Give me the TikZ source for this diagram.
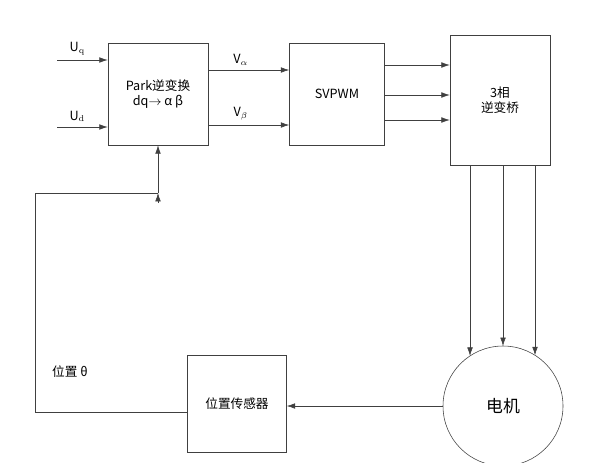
\documentclass[tikz,border=0pt]{standalone}
\usepackage{fontspec}
\newfontfamily\cjk{Noto Sans CJK SC}
\usetikzlibrary{positioning}
\usetikzlibrary{calc}
\usetikzlibrary{arrows.meta}
\begin{document}
\begin{tikzpicture}[x=0.025cm,y=-0.025cm,font=\cjk\fontsize{9}{11}\selectfont]
\tikzstyle{block} =[rectangle,draw=black!75,inner sep=0pt]
\tikzstyle{sig} =[draw=black!75,-{Latex[length=6pt,width=4pt]}]
\useasboundingbox (0,0) rectangle (609,462);
% blocks
\node[block,minimum width=100*0.025cm,minimum height=102*0.025cm,align=center](park) at (158,94){Park逆变换\\dq$\rightarrow$ α β};
\node[block,minimum width=95*0.025cm,minimum height=102*0.025cm](svpwm) at (337,94){SVPWM};
\node[block,minimum width=100*0.025cm,minimum height=130*0.025cm,align=center](inv) at (500,100){3相\\逆变桥};
\node[circle,draw=black!75,minimum size=120*0.025cm](motor) at (503,406){\fontsize{12}{14}\selectfont 电机};
\node[block,minimum width=99*0.025cm,minimum height=97*0.025cm](sensor) at (237,404){位置传感器};
% inputs
\coordinate (uq) at (57,60);
\coordinate (ud) at (57,127);
\draw[sig] (uq) -- (uq -| park.west) node[pos=0.4,above]{U$_\mathrm{q}$};
\draw[sig] (ud) -- (ud -| park.west) node[pos=0.4,above]{U$_\mathrm{d}$};
% park to svpwm
\draw[sig] ($(park.east)+(0,-24)$) -- ($(svpwm.west)+(0,-24)$) node[pos=0.4,above]{V$_\alpha$};
\draw[sig] ($(park.east)+(0,31)$) -- ($(svpwm.west)+(0,31)$) node[pos=0.4,above]{V$_\beta$};
% svpwm to inverter
\foreach \dy in {-29,1,26}
  \draw[sig] ($(svpwm.east)+(0,\dy)$) -- ($(svpwm.east)+(65,\dy)$);
% inverter to motor
\foreach \x in {470,503,535}
  \draw[sig] (\x,165) -- (\x,{406-sqrt(3600-(\x-503)^2)});
% motor to sensor
\draw[sig] (motor.west) -- (motor.west -| sensor.east);
% feedback
\coordinate (fb1) at (35,412);
\coordinate (fb2) at (35,193);
\coordinate (fb3) at (158,193);
\draw[draw=black!75] ($(sensor.west)+(0,8)$) -- (fb1) -- (fb2) -- (fb3);
\draw[sig] (fb3) -- (park.south);
\draw[sig] ($(fb3)+(0,10)$) -- (fb3);
\node at (70,372){位置 θ};
\end{tikzpicture}
\end{document}
